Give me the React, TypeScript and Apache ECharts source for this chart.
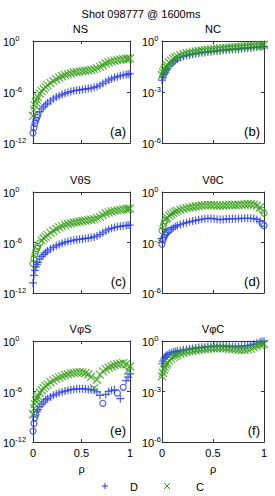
import React, { useEffect, useRef } from 'react';
import * as echarts from 'echarts';

const FONT = '"Liberation Sans", Arial, sans-serif';
const BLUE = '#2238f0';
const GREEN = '#2f9c10';

const superTitle = 'Shot 098777 @ 1600ms';
const panelTitles = ['NS', 'NC', 'VθS', 'VθC', 'VφS', 'VφC'];
const panelTags = ['(a)', '(b)', '(c)', '(d)', '(e)', '(f)'];
const seriesNames = ['D', 'C'];
const xTicks = [0, 0.5, 1];

// normalised radius
const rho = [0, 0.01, 0.02, 0.03, 0.04, 0.05, 0.07, 0.09, 0.11, 0.13, 0.15, 0.18, 0.21, 0.24, 0.27, 0.30, 0.33, 0.36, 0.39, 0.42,
  0.45, 0.48, 0.51, 0.54, 0.57, 0.60, 0.63, 0.66, 0.69, 0.72, 0.75, 0.78, 0.81, 0.84, 0.87, 0.90, 0.93, 0.96, 0.98, 1.0];

// log10 of |value| ; *Neg = indices of negative values (drawn as circles)
const nsD = [-10.8, -10.2, -9.7, -9.3, -9.0, -8.7, -8.3, -8.0, -7.75, -7.5, -7.3, -7.05, -6.8, -6.6, -6.45, -6.3, -6.15, -6.05, -5.95, -5.85,
  -5.8, -5.75, -5.7, -5.65, -5.6, -5.55, -5.45, -5.35, -5.2, -5.0, -4.8, -4.6, -4.45, -4.3, -4.2, -4.1, -4.0, -3.95, -3.9, -3.85];
const nsDNeg = [0, 1, 2, 3, 4, 5];
const nsC = [-8.8, -8.1, -7.6, -7.2, -6.9, -6.6, -6.2, -5.9, -5.65, -5.4, -5.2, -4.95, -4.7, -4.5, -4.3, -4.15, -4.0, -3.9, -3.8, -3.7,
  -3.65, -3.6, -3.55, -3.5, -3.45, -3.4, -3.3, -3.2, -3.05, -2.85, -2.65, -2.5, -2.4, -2.3, -2.25, -2.2, -2.15, -2.1, -2.1, -2.05];
const nsCNeg: number[] = [];

const ncD = [-2.3, -2.12, -1.97, -1.84, -1.73, -1.63, -1.47, -1.34, -1.23, -1.14, -1.06, -0.98, -0.91, -0.86, -0.82, -0.78, -0.75, -0.72, -0.69, -0.67,
  -0.65, -0.63, -0.61, -0.59, -0.57, -0.55, -0.53, -0.52, -0.5, -0.48, -0.47, -0.45, -0.43, -0.42, -0.4, -0.38, -0.36, -0.34, -0.33, -0.32];
const ncDNeg: number[] = [];
const ncC = [-2.0, -1.85, -1.72, -1.6, -1.5, -1.42, -1.28, -1.15, -1.05, -0.97, -0.9, -0.83, -0.77, -0.72, -0.68, -0.65, -0.62, -0.59, -0.56, -0.54,
  -0.52, -0.5, -0.48, -0.46, -0.44, -0.42, -0.41, -0.39, -0.38, -0.36, -0.35, -0.34, -0.32, -0.31, -0.29, -0.28, -0.26, -0.24, -0.23, -0.22];
const ncCNeg: number[] = [];

const vtsD = [-10.8, -9.9, -9.3, -8.9, -8.6, -8.35, -7.95, -7.65, -7.4, -7.2, -7.0, -6.78, -6.58, -6.4, -6.25, -6.1, -5.98, -5.88, -5.8, -5.73,
  -5.67, -5.62, -5.57, -5.52, -5.47, -5.42, -5.34, -5.22, -5.05, -4.85, -4.62, -4.45, -4.32, -4.22, -4.14, -4.08, -4.02, -3.98, -3.95, -3.92];
const vtsDNeg: number[] = [];
const vtsC = [-8.5, -7.9, -7.4, -7.0, -6.7, -6.45, -6.05, -5.75, -5.5, -5.3, -5.1, -4.85, -4.6, -4.4, -4.2, -4.05, -3.9, -3.8, -3.7, -3.62,
  -3.56, -3.5, -3.45, -3.4, -3.35, -3.3, -3.22, -3.1, -2.95, -2.75, -2.55, -2.42, -2.32, -2.25, -2.18, -2.12, -2.07, -2.03, -2.0, -1.98];
const vtsCNeg = [0, 1, 2, 3, 4, 5, 6];

const vtcD = [-3.1, -2.85, -2.68, -2.55, -2.45, -2.37, -2.28, -2.2, -2.12, -2.05, -1.99, -1.93, -1.87, -1.82, -1.77, -1.73, -1.69, -1.65, -1.62, -1.59,
  -1.57, -1.57, -1.59, -1.62, -1.64, -1.63, -1.61, -1.6, -1.59, -1.59, -1.58, -1.57, -1.56, -1.56, -1.56, -1.58, -1.63, -1.74, -1.86, -2.0];
const vtcDNeg = [0, 1, 2, 3, 4, 5, 6, 38, 39];
const vtcC = [-2.3, -2.05, -1.85, -1.7, -1.6, -1.52, -1.41, -1.32, -1.24, -1.17, -1.12, -1.06, -1.0, -0.96, -0.92, -0.89, -0.86, -0.83, -0.8, -0.78,
  -0.77, -0.77, -0.78, -0.8, -0.81, -0.8, -0.79, -0.78, -0.77, -0.77, -0.76, -0.75, -0.74, -0.73, -0.73, -0.75, -0.8, -0.92, -1.08, -1.25];
const vtcCNeg = [0, 1, 2, 3, 38, 39];

const vpsD = [-10.7, -9.8, -9.1, -8.7, -8.4, -8.15, -7.8, -7.5, -7.25, -7.0, -6.85, -6.65, -6.45, -6.3, -6.15, -6.05, -5.95, -5.85, -5.78, -5.72,
  -5.68, -5.66, -5.66, -5.7, -5.75, -5.8, -5.85, -6.05, -6.45, -7.4, -6.35, -6.0, -5.85, -5.8, -6.2, -6.85, -5.5, -4.7, -4.3, -3.9];
const vpsDNeg = [0, 1, 2, 3, 29, 34, 36];
const vpsC = [-8.7, -8.0, -7.5, -7.1, -6.8, -6.55, -6.15, -5.85, -5.6, -5.35, -5.15, -4.9, -4.7, -4.5, -4.35, -4.2, -4.05, -3.95, -3.85, -3.78,
  -3.72, -3.7, -3.72, -3.8, -3.95, -4.25, -5.6, -4.6, -4.0, -3.6, -3.35, -3.15, -3.0, -2.88, -2.78, -2.7, -2.62, -2.75, -3.5, -3.0];
const vpsCNeg: number[] = [];

const vpcD = [-1.35, -1.2, -1.07, -0.97, -0.89, -0.83, -0.76, -0.7, -0.66, -0.63, -0.6, -0.56, -0.52, -0.49, -0.46, -0.44, -0.41, -0.39, -0.37, -0.35,
  -0.33, -0.32, -0.31, -0.3, -0.3, -0.3, -0.3, -0.31, -0.32, -0.32, -0.32, -0.31, -0.29, -0.27, -0.23, -0.18, -0.12, -0.06, -0.03, -0.01];
const vpcDNeg: number[] = [];
const vpcC = [-2.1, -1.9, -1.7, -1.55, -1.42, -1.32, -1.17, -1.05, -0.96, -0.89, -0.83, -0.76, -0.7, -0.65, -0.62, -0.59, -0.55, -0.52, -0.5, -0.48,
  -0.46, -0.44, -0.43, -0.42, -0.42, -0.43, -0.44, -0.46, -0.48, -0.5, -0.52, -0.53, -0.52, -0.5, -0.45, -0.38, -0.3, -0.23, -0.2, -0.18];
const vpcCNeg: number[] = [];

// y-axis decades (log10) per panel
const yMin = [-12, -6, -12, -6, -12, -6];
const yStep = [6, 3, 6, 3, 6, 3];

const panelD = [[nsD, nsDNeg], [ncD, ncDNeg], [vtsD, vtsDNeg], [vtcD, vtcDNeg], [vpsD, vpsDNeg], [vpcD, vpcDNeg]];
const panelC = [[nsC, nsCNeg], [ncC, ncCNeg], [vtsC, vtsCNeg], [vtcC, vtcCNeg], [vpsC, vpsCNeg], [vpcC, vpcCNeg]];

const PLUS = 'path://M0,-5L0,5M-5,0L5,0';
const CROSS = 'path://M-5,-5L5,5M-5,5L5,-5';

const GRIDS = [
  { left: 31, top: 41, width: 99, height: 102 },
  { left: 162, top: 41, width: 102, height: 102 },
  { left: 31, top: 192, width: 99, height: 101 },
  { left: 162, top: 192, width: 102, height: 101 },
  { left: 31, top: 341, width: 99, height: 101 },
  { left: 162, top: 341, width: 102, height: 101 },
];

const AX = '#333';

function buildOption() {
  const xAxis: any[] = [];
  const yAxis: any[] = [];
  const series: any[] = [];
  const graphic: any[] = [];

  GRIDS.forEach((g, i) => {
    const bottomRow = i >= 4;
    const left = i % 2 === 0;
    const common = {
      gridIndex: i,
      type: 'value',
      splitLine: { show: false },
      axisLine: { show: true, onZero: false, lineStyle: { color: AX, width: 1 } },
      axisTick: { show: true, inside: true, length: 3, lineStyle: { color: AX } },
    };
    xAxis.push({
      ...common, position: 'bottom', min: 0, max: 1, interval: 0.5,
      axisLabel: { show: bottomRow, fontSize: 11, color: '#000', margin: 5, fontFamily: FONT,
        formatter: (v: number) => (xTicks.includes(v) ? String(v) : '') },
      name: bottomRow ? 'ρ' : '', nameLocation: 'middle', nameGap: 21,
      nameTextStyle: { fontSize: 11, color: '#000', fontFamily: FONT },
    });
    xAxis.push({ ...common, position: 'top', min: 0, max: 1, interval: 0.5, axisLabel: { show: false } });
    yAxis.push({
      ...common, position: 'left', min: yMin[i], max: 0, interval: yStep[i],
      axisLabel: {
        show: true, align: 'left', margin: left ? 30 : 20, color: '#000', fontFamily: FONT,
        formatter: (v: number) => `{b|10}{s|${v}}`,
        rich: {
          b: { fontSize: 11, fontFamily: FONT, color: '#000', lineHeight: 13, verticalAlign: 'bottom' },
          s: { fontSize: 7.5, fontFamily: FONT, color: '#000', lineHeight: 13, verticalAlign: 'top', padding: [0, 0, 6, 0] },
        },
      },
    });
    yAxis.push({ ...common, position: 'right', min: yMin[i], max: 0, interval: yStep[i], axisLabel: { show: false } });

    const mk = (vals: number[], neg: number[], color: string, sym: string, name: string) => ({
      type: 'scatter', name, xAxisIndex: 2 * i, yAxisIndex: 2 * i, silent: true, z: name === 'C' ? 3 : 2,
      data: rho.map((r, k) => {
        const n = neg.includes(k);
        return {
          value: [r, vals[k]],
          symbol: n ? 'circle' : sym,
          symbolSize: n ? 6 : 8,
          itemStyle: { color: 'rgba(0,0,0,0)', borderColor: color, borderWidth: 1.2 },
        };
      }),
    });
    series.push(mk(panelD[i][0] as number[], panelD[i][1] as number[], BLUE, PLUS, seriesNames[0]));
    series.push(mk(panelC[i][0] as number[], panelC[i][1] as number[], GREEN, CROSS, seriesNames[1]));

    graphic.push({
      type: 'text', x: g.left + g.width / 2, y: g.top - 12,
      style: { text: panelTitles[i], fontSize: 11, fontFamily: FONT, fill: '#000', align: 'center', verticalAlign: 'middle' },
    });
    graphic.push({
      type: 'text', x: g.left + g.width - 4, y: g.top + g.height - 12,
      style: { text: panelTags[i], fontSize: 13, fontFamily: FONT, fill: '#000', align: 'right', verticalAlign: 'middle' },
    });
  });

  graphic.push({
    type: 'text', x: 141, y: 14,
    style: { text: superTitle, fontSize: 11, fontFamily: FONT, fill: '#000', align: 'center', verticalAlign: 'middle' },
  });
  // legend
  graphic.push({
    type: 'group', x: 105, y: 486, children: [
      { type: 'line', shape: { x1: -3, y1: 0, x2: 3, y2: 0 }, style: { stroke: BLUE, lineWidth: 1 } },
      { type: 'line', shape: { x1: 0, y1: -3, x2: 0, y2: 3 }, style: { stroke: BLUE, lineWidth: 1 } },
    ],
  });
  graphic.push({
    type: 'text', x: 130, y: 487,
    style: { text: seriesNames[0], fontSize: 11, fontFamily: FONT, fill: '#000', align: 'left', verticalAlign: 'middle' },
  });
  graphic.push({
    type: 'group', x: 167, y: 486, children: [
      { type: 'line', shape: { x1: -3, y1: -3, x2: 3, y2: 3 }, style: { stroke: GREEN, lineWidth: 1 } },
      { type: 'line', shape: { x1: -3, y1: 3, x2: 3, y2: -3 }, style: { stroke: GREEN, lineWidth: 1 } },
    ],
  });
  graphic.push({
    type: 'text', x: 196, y: 487,
    style: { text: seriesNames[1], fontSize: 11, fontFamily: FONT, fill: '#000', align: 'left', verticalAlign: 'middle' },
  });

  return {
    animation: false,
    backgroundColor: '#fff',
    textStyle: { fontFamily: FONT },
    grid: GRIDS.map((g) => ({ ...g, containLabel: false })),
    xAxis,
    yAxis,
    series,
    graphic,
  };
}

export default function App() {
  const ref = useRef<HTMLDivElement>(null);
  useEffect(() => {
    if (!ref.current) return;
    const chart = echarts.init(ref.current, null, { renderer: 'svg' });
    chart.setOption(buildOption() as any);
    return () => chart.dispose();
  }, []);
  return <div ref={ref} style={{ position: 'fixed', left: 0, top: 0, width: 275, height: 496 }} />;
}
